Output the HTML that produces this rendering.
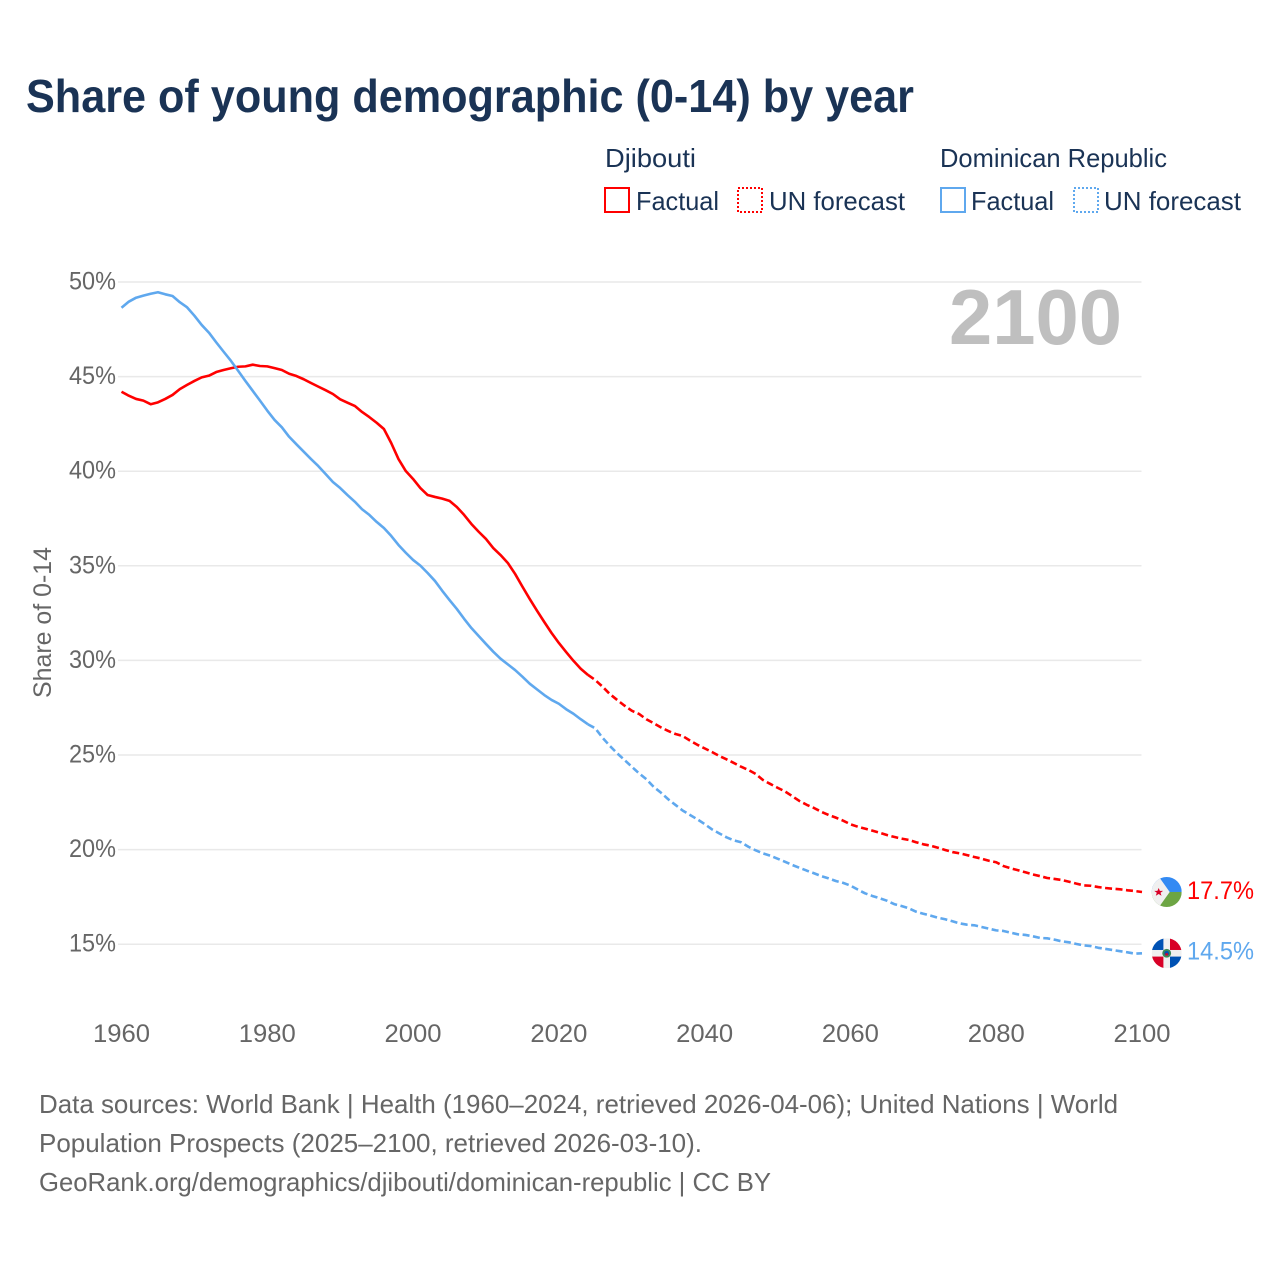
<!DOCTYPE html>
<html lang="en">
<head>
<meta charset="utf-8">
<title>Share of young demographic (0-14) by year</title>
<style>
html,body{margin:0;padding:0;background:#fff;}
svg{display:block;font-family:"Liberation Sans",sans-serif;}
</style>
</head>
<body>
<svg id="chart" xmlns="http://www.w3.org/2000/svg" width="1280" height="1280" viewBox="0 0 1280 1280">
  <defs>
    <clipPath id="flag-clip"><circle cx="0" cy="0" r="15"/></clipPath>
  </defs>
  <rect width="1280" height="1280" fill="#fff"/>
  <text x="26" y="112" font-size="46" font-weight="700" fill="#1a3355" textLength="888" lengthAdjust="spacingAndGlyphs">Share of young demographic (0-14) by year</text>

  <g font-size="26" fill="#1a3355">
    <text x="605" y="167" textLength="91" lengthAdjust="spacingAndGlyphs">Djibouti</text>
    <text x="940" y="167" textLength="227" lengthAdjust="spacingAndGlyphs">Dominican Republic</text>

    <rect x="605" y="188" width="24" height="24" fill="none" stroke="#ff0000" stroke-width="2"/>
    <text x="636" y="210" textLength="83" lengthAdjust="spacingAndGlyphs">Factual</text>
    <rect x="738" y="188" width="24" height="24" fill="none" stroke="#ff0000" stroke-width="2" stroke-dasharray="2 2"/>
    <text x="769" y="210" textLength="136" lengthAdjust="spacingAndGlyphs">UN forecast</text>

    <rect x="941" y="188" width="24" height="24" fill="none" stroke="#5fa8ee" stroke-width="2"/>
    <text x="971" y="210" textLength="83" lengthAdjust="spacingAndGlyphs">Factual</text>
    <rect x="1074" y="188" width="24" height="24" fill="none" stroke="#5fa8ee" stroke-width="2" stroke-dasharray="2 2"/>
    <text x="1104" y="210" textLength="137" lengthAdjust="spacingAndGlyphs">UN forecast</text>
  </g>

  <g id="grid"></g>
  <g id="y-ticks" font-size="25" fill="#666"></g>
  <g id="x-ticks" font-size="25" fill="#666"></g>
  <text transform="translate(51,698) rotate(-90)" font-size="25" fill="#666" textLength="151" lengthAdjust="spacingAndGlyphs">Share of 0-14</text>
  <text x="949" y="344" font-size="78" font-weight="700" fill="#bfbfbf" textLength="173" lengthAdjust="spacingAndGlyphs">2100</text>

  <g id="series"></g>

  <g id="flag-dj">
    <g clip-path="url(#flag-clip)">
      <rect x="-15" y="-15" width="30" height="15" fill="#338af3"/>
      <rect x="-15" y="0" width="30" height="15" fill="#6da544"/>
      <polygon points="-15,-15.5 -8,-15.5 3,0 -8,15.5 -15,15.5" fill="#f0f0f0"/>
      <polygon points="-8,-4 -6.8,-1.1 -3.6,-1.1 -6.2,0.8 -5.2,3.8 -8,2 -10.9,3.8 -9.9,0.8 -12.5,-1.1 -9.3,-1.1" fill="#d80027"/>
    </g>
  </g>
  <g id="flag-do">
    <g clip-path="url(#flag-clip)">
      <rect x="-15" y="-15" width="30" height="30" fill="#f0f0f0"/>
      <rect x="-15" y="-15" width="11.7" height="11.7" fill="#0052b4"/>
      <rect x="3.3" y="-15" width="11.7" height="11.7" fill="#d80027"/>
      <rect x="-15" y="3.3" width="11.7" height="11.7" fill="#d80027"/>
      <rect x="3.3" y="3.3" width="11.7" height="11.7" fill="#0052b4"/>
      <circle r="4.4" fill="#3d8a57"/>
      <circle r="2.4" fill="#0052b4"/>
      <rect x="-1.4" y="0" width="2.8" height="2.2" fill="#d80027"/>
    </g>
  </g>
  <text id="label-dj" font-size="25" fill="#ff0000" textLength="67" lengthAdjust="spacingAndGlyphs"></text>
  <text id="label-do" font-size="25" fill="#5fa8ee" textLength="67" lengthAdjust="spacingAndGlyphs"></text>

  <g font-size="26" fill="#666">
    <text x="39" y="1113" textLength="1079" lengthAdjust="spacingAndGlyphs">Data sources: World Bank | Health (1960–2024, retrieved 2026-04-06); United Nations | World</text>
    <text x="39" y="1152" textLength="663" lengthAdjust="spacingAndGlyphs">Population Prospects (2025–2100, retrieved 2026-03-10).</text>
    <text x="39" y="1191" textLength="732" lengthAdjust="spacingAndGlyphs">GeoRank.org/demographics/djibouti/dominican-republic | CC BY</text>
  </g>
</svg>
<script>
const yTicks = [50, 45, 40, 35, 30, 25, 20, 15];
const xTicks = [1960, 1980, 2000, 2020, 2040, 2060, 2080, 2100];
const factualStartYear = 1960;
const forecastStartYear = 2025;
const djiboutiLabel = "17.7%";
const dominicanLabel = "14.5%";

const djiboutiFactual = [
44.20,43.99,43.82,43.73,43.54,43.64,43.82,44.03,44.34,44.56,
44.77,44.96,45.05,45.24,45.35,45.44,45.52,45.54,45.63,45.56,
45.54,45.45,45.35,45.15,45.03,44.86,44.66,44.47,44.28,44.08,
43.80,43.62,43.45,43.13,42.86,42.56,42.23,41.49,40.64,40.01,
39.59,39.11,38.74,38.64,38.55,38.43,38.11,37.69,37.21,36.80,
36.42,35.94,35.57,35.15,34.57,33.90,33.25,32.63,32.03,31.45,
30.92,30.44,29.98,29.56,29.23];

const djiboutiForecast = [
28.96,28.61,28.22,27.91,27.61,
27.34,27.17,26.89,26.68,26.46,26.27,26.11,26.00,25.76,25.54,
25.35,25.16,24.95,24.77,24.58,24.38,24.21,24.00,23.68,23.47,
23.27,23.08,22.83,22.57,22.37,22.20,22.00,21.83,21.69,21.53,
21.34,21.21,21.11,21.00,20.89,20.77,20.67,20.58,20.51,20.39,
20.28,20.21,20.10,19.98,19.87,19.80,19.71,19.61,19.52,19.41,
19.33,19.13,19.01,18.91,18.80,18.69,18.60,18.50,18.45,18.39,
18.30,18.20,18.11,18.09,18.02,17.97,17.93,17.90,17.85,17.81,17.76];

const dominicanFactual = [
48.64,48.96,49.17,49.28,49.38,49.46,49.35,49.26,48.93,48.66,
48.22,47.73,47.32,46.81,46.32,45.84,45.31,44.77,44.25,43.73,
43.20,42.71,42.32,41.82,41.42,41.03,40.64,40.27,39.85,39.43,
39.11,38.74,38.39,37.99,37.69,37.32,37.00,36.58,36.10,35.69,
35.31,35.01,34.62,34.20,33.68,33.19,32.72,32.20,31.71,31.29,
30.87,30.46,30.09,29.79,29.49,29.14,28.77,28.47,28.17,27.91,
27.71,27.42,27.18,26.89,26.62];

const dominicanForecast = [
26.41,25.91,25.48,25.09,24.74,
24.38,24.03,23.72,23.32,23.01,22.66,22.36,22.06,21.83,21.60,
21.35,21.07,20.86,20.65,20.49,20.39,20.15,19.96,19.80,19.68,
19.52,19.36,19.19,19.04,18.89,18.75,18.60,18.48,18.34,18.24,
18.10,17.89,17.69,17.55,17.43,17.30,17.12,17.02,16.90,16.72,
16.61,16.51,16.40,16.32,16.21,16.10,16.03,16.00,15.91,15.82,
15.73,15.70,15.61,15.52,15.49,15.42,15.33,15.31,15.24,15.15,
15.10,15.01,14.94,14.90,14.81,14.75,14.69,14.63,14.57,14.50,14.52];

const NS = "http://www.w3.org/2000/svg";
function xScale(year) { return 121.5 + (year - 1960) * (1142 - 121.5) / 140; }
function yScale(value) { return 282 + (50 - value) * 18.92; }

function makeEl(tag, attrs) {
  const el = document.createElementNS(NS, tag);
  for (const k in attrs) el.setAttribute(k, attrs[k]);
  return el;
}

const gridGroup = document.getElementById("grid");
const yTickGroup = document.getElementById("y-ticks");
yTicks.forEach(function (t) {
  const line = makeEl("line", {x1: 118, x2: 1141.5, y1: yScale(t), y2: yScale(t), stroke: "#e9e9e9", "stroke-width": 1.5});
  
  
  gridGroup.appendChild(line);
  const label = makeEl("text", {x: 116, y: yScale(t) + 7.5, "text-anchor": "end", textLength: 47, lengthAdjust: "spacingAndGlyphs"});
  
  
  label.textContent = t + "%";
  yTickGroup.appendChild(label);
});

const xTickGroup = document.getElementById("x-ticks");
xTicks.forEach(function (t) {
  const label = makeEl("text", {x: xScale(t), y: 1042, "text-anchor": "middle", textLength: 57, lengthAdjust: "spacingAndGlyphs"});
  
  
  label.textContent = t;
  xTickGroup.appendChild(label);
});

function pointList(values, startYear) {
  return values.map(function (v, i) {
    return xScale(startYear + i).toFixed(2) + "," + yScale(v).toFixed(2);
  }).join(" ");
}

const seriesGroup = document.getElementById("series");
function addLine(values, startYear, color, dashed, name) {
  const line = makeEl("polyline", {
    points: pointList(values, startYear),
    fill: "none",
    stroke: color,
    "stroke-width": 2.6,
    "stroke-linejoin": "round"
  });
  if (dashed) line.setAttribute("stroke-dasharray", "7 3.5");
  
  
  seriesGroup.appendChild(line);
}

const djLast = djiboutiFactual[djiboutiFactual.length - 1];
const doLast = dominicanFactual[dominicanFactual.length - 1];
addLine(djiboutiFactual, factualStartYear, "#ff0000", false, "djibouti-factual-line");
addLine([djLast].concat(djiboutiForecast), forecastStartYear - 1, "#ff0000", true, "djibouti-forecast-line");
addLine(dominicanFactual, factualStartYear, "#5fa8ee", false, "dominican-factual-line");
addLine([doLast].concat(dominicanForecast), forecastStartYear - 1, "#5fa8ee", true, "dominican-forecast-line");

const djEnd = yScale(djiboutiForecast[djiboutiForecast.length - 1]);
const doEnd = yScale(dominicanForecast[dominicanForecast.length - 1]);
document.getElementById("flag-dj").setAttribute("transform", "translate(1166.7," + djEnd + ")");
document.getElementById("flag-do").setAttribute("transform", "translate(1166.7," + doEnd + ")");
const labelDj = document.getElementById("label-dj");
labelDj.setAttribute("x", 1187);
labelDj.setAttribute("y", djEnd + 7);
labelDj.textContent = djiboutiLabel;
const labelDo = document.getElementById("label-do");
labelDo.setAttribute("x", 1187);
labelDo.setAttribute("y", doEnd + 6);
labelDo.textContent = dominicanLabel;
</script>
</body>
</html>
